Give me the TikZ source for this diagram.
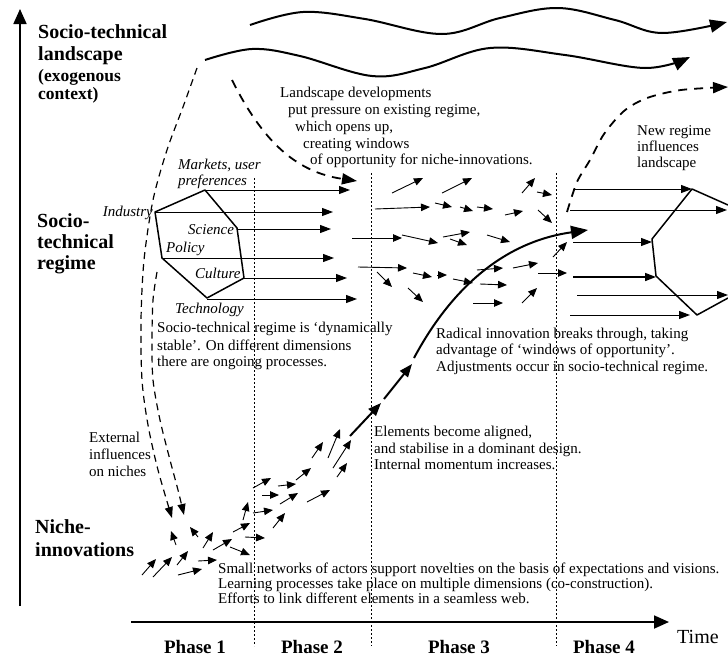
\documentclass[tikz,border=0pt]{standalone}
\usepackage{fontspec}
\setmainfont{Liberation Serif}
\usetikzlibrary{arrows.meta}
\begin{document}
\begin{tikzpicture}[x=1pt,y=-1pt,
  body/.style={anchor=base west, inner sep=0pt, font=\fontsize{15}{16}\selectfont},
  ital/.style={anchor=base west, inner sep=0pt, font=\fontsize{15}{16}\selectfont\itshape},
  lvl/.style={anchor=base west, inner sep=0pt, font=\fontsize{20}{22}\selectfont\bfseries},
  sublvl/.style={anchor=base west, inner sep=0pt, font=\fontsize{17.5}{19}\selectfont\bfseries},
  phaselbl/.style={anchor=base, inner sep=0pt, font=\fontsize{19}{21}\selectfont\bfseries},
  sarr/.style={line width=0.9pt, -{Triangle[length=9pt,width=7.5pt]}},
  rarr/.style={line width=1pt, -{Triangle[length=11pt,width=8pt]}},
  tarr/.style={line width=2pt, -{Triangle[length=13pt,width=10pt]}},
  wave/.style={line width=2pt, -{Triangle[length=17pt,width=13pt]}},
  hexa/.style={line width=1.5pt, line join=round},
  dotline/.style={line width=1pt, dash pattern=on 2pt off 2pt},
  dashthin/.style={line width=1.2pt, dash pattern=on 7pt off 5pt, -{Triangle[length=11pt,width=8pt]}},
  dashthick/.style={line width=1.8pt, dash pattern=on 9pt off 7pt, -{Triangle[length=15pt,width=11pt]}},
  axis/.style={line width=1.8pt, -{Triangle[length=15pt,width=13pt]}}
]
\fill[white] (0,0) rectangle (728,659);
\useasboundingbox (0,0) rectangle (728,659);

% axes
\coordinate (vb) at (20,606); \coordinate (vt) at (20,9);
\coordinate (hl) at (131,622); \coordinate (hr) at (669,622);
\draw[axis] (vb) -- (vt);
\draw[axis] (hl) -- (hr);

% phase separators
\draw[dotline] (254,178) -- (254,646);
\draw[dotline] (371,173) -- (371,646);
\draw[dotline] (556,173) -- (556,646);

% landscape waves
\draw[wave] plot[smooth,tension=0.6] coordinates {(250,25) (303,12) (365,19) (442,34) (500,18) (558,8) (615,20) (662,33) (727,22)};
\draw[wave] plot[smooth,tension=0.6] coordinates {(205,60) (252,49) (300,56) (372,76) (425,68) (490,48) (565,55) (645,68) (690,57)};

% dashed influences
\draw[dashthin] plot[smooth] coordinates {(197,68) (183,107) (167,150) (153,200) (144,260) (141,320) (142,380) (148,425) (158,470) (172,518)};
\draw[dashthin] plot[smooth] coordinates {(157,272) (153,300) (152,340) (153,380) (160,420) (170,460) (178,490) (184,515)};
\draw[dashthick] (232,80) .. controls (262,140) and (295,172) .. (357,181);
\draw[dashthick] plot[smooth] coordinates {(567,212) (577,182) (590,160) (604,134) (624,111) (647,98) (681,90) (728,87)};

% left regime hexagon
\draw[hexa] (205,190) -- (237,228) -- (244,278) -- (207,298) -- (162,258) -- (155,212) -- cycle;
\draw[rarr] (205,190) -- (350,190);
\draw[rarr] (155,212) -- (333,212);
\draw[rarr] (237,229) -- (331,229);
\draw[rarr] (162,258) -- (334,258);
\draw[rarr] (244,278) -- (347,278);
\draw[rarr] (207,299) -- (357,299);

% right regime hexagon
\draw[hexa] (728,205) -- (692,189) -- (652,239) -- (656,276) -- (697,315) -- (728,298);
\draw[rarr] (573,189) -- (692,189);
\draw[rarr] (570,210) -- (727,210);
\draw[rarr] (573,242) -- (652,242);
\draw[rarr, line width=1.6pt] (573,277) -- (656,277);
\draw[rarr] (577,295) -- (728,295);
\draw[rarr] (570,315) -- (690,315);

% middle (phase 3) arrows
\foreach \a/\b in {
  {392,193}/{423,178}, {442,193}/{472,178}, {522,193}/{535,178}, {537,192}/{552,195},
  {375,209}/{430,207}, {435,203}/{452,207}, {460,207}/{473,211}, {477,207}/{493,209},
  {505,215}/{523,211}, {538,210}/{552,223},
  {352,238}/{402,238}, {402,235}/{438,243}, {443,237}/{470,232}, {450,239}/{467,245},
  {487,235}/{510,242}, {553,257}/{567,242},
  {358,267}/{407,268}, {377,272}/{392,287}, {413,273}/{432,277}, {437,275}/{447,275},
  {453,279}/{473,283}, {477,270}/{503,268}, {513,268}/{538,263}, {538,273}/{567,273},
  {408,288}/{423,302}, {480,284}/{507,285}, {522,303}/{537,288}, {473,303}/{503,303}}
  \draw[sarr] (\a) -- (\b);

% niche arrows
\foreach \a/\b in {
  {142,575}/{156,559}, {153,577}/{172,557}, {177,565}/{188,551}, {178,575}/{202,569},
  {198,561}/{217,560}, {176,545}/{171,531}, {198,537}/{190,527}, {203,548}/{213,532},
  {213,550}/{232,539}, {230,547}/{250,555}, {233,532}/{250,523}, {243,520}/{248,502},
  {245,537}/{265,538}, {253,513}/{273,510}, {253,488}/{271,478}, {262,495}/{279,495},
  {278,486}/{296,484}, {280,504}/{298,493}, {273,528}/{285,513}, {296,480}/{311,468},
  {307,502}/{330,490}, {312,458}/{323,442}, {328,458}/{340,429}, {333,468}/{351,440},
  {337,477}/{347,463}}
  \draw[sarr] (\a) -- (\b);

% breakthrough
\draw[tarr] (350,436) -- (381,403);
\draw[tarr] (384,399) -- (412,364);
\draw[line width=2pt, -{Triangle[length=17pt,width=13pt]}] (414,358) .. controls (445,300) and (495,243) .. (588,230);

% level labels
\node[lvl] (land1) at (38,38) {Socio-technical};
\node[lvl] (land2) at (38,60) {landscape};
\node[sublvl] (land3) at (38,81) {(exogenous};
\node[sublvl] (land4) at (38,99) {context)};
\node[lvl] (reg1) at (37,227) {Socio-};
\node[lvl] (reg2) at (37,248) {technical};
\node[lvl] (reg3) at (37,269) {regime};
\node[lvl] (nic1) at (35,533) {Niche-};
\node[lvl] (nic2) at (35,556) {innovations};

% landscape text
\node[body] (ls1) at (280,97) {Landscape developments};
\node[body] (ls2) at (288,114) {put pressure on existing regime,};
\node[body] (ls3) at (295,131) {which opens up,};
\node[body] (ls4) at (303,148) {creating windows};
\node[body] (ls5) at (310,164) {of opportunity for niche-innovations.};

\node[body] (nr1) at (637,135) {New regime};
\node[body] (nr2) at (637,151) {influences};
\node[body] (nr3) at (637,167) {landscape};

% regime dimensions
\node[ital] (mk1) at (178,169) {Markets, user};
\node[ital] (mk2) at (178,185) {preferences};
\node[ital, anchor=base east] (ind) at (153,216) {Industry};
\node[ital] (sci) at (188,234) {Science};
\node[ital] (pol) at (166,252) {Policy};
\node[ital] (cul) at (195,278) {Culture};
\node[ital] (tec) at (175,313) {Technology};

\node[body] (rg1) at (157,332) {Socio-technical regime is ‘dynamically};
\node[body] (rg2) at (157,350) {stable’. On different dimensions};
\node[body] (rg3) at (157,366) {there are ongoing processes.};

\node[body] (ri1) at (436,338) {Radical innovation breaks through, taking};
\node[body] (ri2) at (436,354) {advantage of ‘windows of opportunity’.};
\node[body] (ri3) at (436,371) {Adjustments occur in socio-technical regime.};

\node[body] (el1) at (374,436) {Elements become aligned,};
\node[body] (el2) at (374,453) {and stabilise in a dominant design.};
\node[body] (el3) at (374,469) {Internal momentum increases.};

\node[body] (ex1) at (89,442) {External};
\node[body] (ex2) at (89,459) {influences};
\node[body] (ex3) at (89,476) {on niches};

\node[body] (sn1) at (218,573) {Small networks of actors support novelties on the basis of expectations and visions.};
\node[body] (sn2) at (218,588) {Learning processes take place on multiple dimensions (co-construction).};
\node[body] (sn3) at (218,603) {Efforts to link different elements in a seamless web.};

% time axis labels
\node[phaselbl] (p1) at (195,653) {Phase 1};
\node[phaselbl] (p2) at (312,653) {Phase 2};
\node[phaselbl] (p3) at (459,653) {Phase 3};
\node[phaselbl] (p4) at (604,653) {Phase 4};
\node[anchor=base west, inner sep=0pt, font=\fontsize{20}{22}\selectfont] (time) at (677,643) {Time};
\end{tikzpicture}
\end{document}
